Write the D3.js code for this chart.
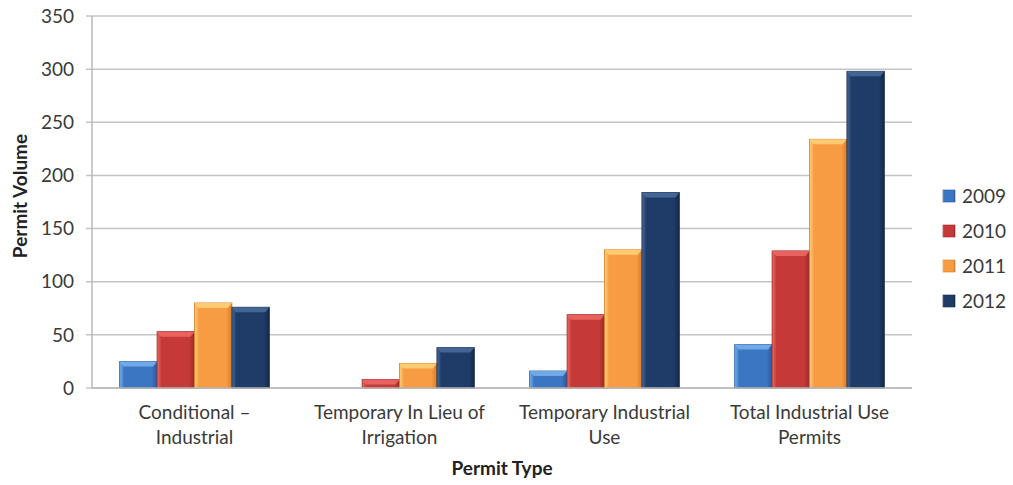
<!DOCTYPE html>
<html><head><meta charset="utf-8">
<script src="https://cdn.jsdelivr.net/npm/d3@7"></script>
<style>body{margin:0;background:#fff;} svg{display:block;}</style>
</head><body>
<svg id="c" width="1013" height="485"></svg>
<script>
const categories = [["Conditional –","Industrial"],["Temporary In Lieu of","Irrigation"],["Temporary Industrial","Use"],["Total Industrial Use","Permits"]];
const seriesNames = ["2009","2010","2011","2012"];
const v2009 = [25, 0, 16, 41];
const v2010 = [53, 8, 69, 129];
const v2011 = [80, 23, 130, 234];
const v2012 = [76, 38, 184, 298];
const yTicks = [0,50,100,150,200,250,300,350];
const colors = ["#3b76c3","#c53a39","#f89c43","#1f3c68"];
const tops = ["#7ab2ee","#ee6a64","#ffd27a","#4a6c9c"];
const darks = ["#2a5a9c","#9c2a2a","#d97c28","#15294a"];

const allVals = [v2009, v2010, v2011, v2012];
const svg = d3.select("#c");
const m = {l:92, r:101, t:16, b:97};
const W = 1013, H = 485;
const FONT = "Lato, sans-serif";
const x0 = d3.scaleBand().domain(d3.range(categories.length)).range([m.l, W-m.r]).paddingInner(0.27).paddingOuter(0.135);
const x1 = d3.scaleBand().domain(d3.range(seriesNames.length)).range([0, x0.bandwidth()]);
const y = d3.scaleLinear().domain([0,350]).range([H-m.b, m.t]);

const defs = svg.append("defs");
colors.forEach((c,i)=>{
  const g = defs.append("linearGradient").attr("id","g"+i).attr("x1","0").attr("x2","1").attr("y1","0").attr("y2","0");
  g.append("stop").attr("offset","0").attr("stop-color",tops[i]);
  g.append("stop").attr("offset","0.12").attr("stop-color",c);
  g.append("stop").attr("offset","0.85").attr("stop-color",c);
  g.append("stop").attr("offset","1").attr("stop-color",darks[i]);
});

// gridlines
svg.append("g").selectAll("line").data(yTicks).join("line")
  .attr("x1", m.l-6).attr("x2", W-m.r).attr("y1", d=>y(d)).attr("y2", d=>y(d))
  .attr("stroke","#c4c4c4").attr("stroke-width",1.5);
// y axis line
svg.append("line").attr("x1",m.l).attr("x2",m.l).attr("y1",y(350)).attr("y2",y(0)).attr("stroke","#b8b8b8").attr("stroke-width",1.5);

// y tick labels
svg.append("g").selectAll("text").data(yTicks).join("text")
  .attr("x", 74).attr("y", d=>y(d)).attr("dy","0.35em").attr("text-anchor","end")
  .attr("font-family",FONT).attr("font-size",19).attr("fill","#3a3a3a").text(d=>d);

// bars
const groups = svg.append("g").selectAll("g").data(categories).join("g")
  .attr("transform",(d,i)=>`translate(${x0(i)},0)`);
groups.each(function(cat, ci){
  const g = d3.select(this);
  seriesNames.forEach((s, si)=>{
    const v = allVals[si][ci];
    if (!v) return;
    const bx = x1(si), bw = x1.bandwidth(), by = y(v), bh = y(0)-y(v);
    g.append("rect").attr("x",bx).attr("y",by).attr("width",bw).attr("height",bh)
      .attr("fill",`url(#g${si})`).attr("stroke",darks[si]).attr("stroke-width",0.8);
    const th = Math.min(5, bh);
    g.append("path").attr("d",`M${bx},${by} L${bx+bw},${by} L${bx+bw-4},${by+th} L${bx+4},${by+th} Z`)
      .attr("fill",tops[si]).attr("opacity",0.85);
  });
});

// x axis line
svg.append("line").attr("x1",m.l).attr("x2",W-m.r).attr("y1",y(0)).attr("y2",y(0)).attr("stroke","#b8b8b8").attr("stroke-width",1.5);

// category labels
svg.append("g").selectAll("text").data(categories).join("text")
  .attr("x",(d,i)=>x0(i)+x0.bandwidth()/2).attr("y",419)
  .attr("text-anchor","middle").attr("font-family",FONT).attr("font-size",19).attr("fill","#3a3a3a")
  .each(function(d){
    const t = d3.select(this);
    d.forEach((line,li)=>t.append("tspan").attr("x",t.attr("x")).attr("dy", li?25:0).text(line));
  });

// axis titles
svg.append("text").attr("x",(m.l+W-m.r)/2).attr("y",475).attr("text-anchor","middle")
  .attr("font-family",FONT).attr("font-weight","bold").attr("font-size",19).attr("fill","#222").text("Permit Type");
svg.append("text").attr("transform",`translate(27,${196}) rotate(-90)`).attr("text-anchor","middle")
  .attr("font-family",FONT).attr("font-weight","bold").attr("font-size",19).attr("fill","#222").text("Permit Volume");

// legend
const lg = svg.append("g").selectAll("g").data(seriesNames).join("g")
  .attr("transform",(d,i)=>`translate(943,${196+i*35})`);
lg.append("rect").attr("x",0).attr("y",-6).attr("width",12).attr("height",12).attr("fill",(d,i)=>`url(#g${i})`).attr("stroke",(d,i)=>darks[i]).attr("stroke-width",0.6);
lg.append("text").attr("x",19).attr("dy","0.35em").attr("font-family",FONT).attr("font-size",19).attr("fill","#3a3a3a").text(d=>d);
</script>
</body></html>
